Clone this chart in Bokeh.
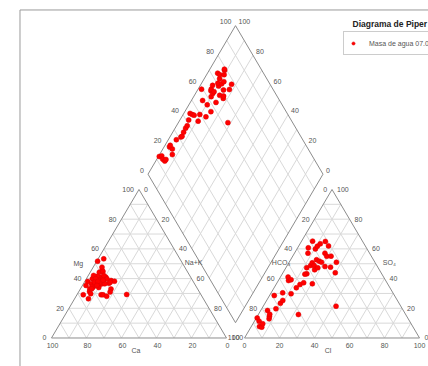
import math
from bokeh.plotting import figure
from bokeh.models import Legend, LegendItem, Label, Range1d
from bokeh.core.properties import value
from bokeh.embed import file_html
from bokeh.resources import INLINE

# ---------------- data (percent of meq) ----------------
ca = [47.8, 60.3, 56.7, 50.5, 61.6, 51.8, 43.5, 53.0, 54.9, 58.9, 54.5, 59.1, 48.3, 59.1, 62.6, 47.3, 67.3,
      54.8, 57.0, 51.2, 54.5, 57.1, 56.0, 48.5, 60.5, 62.6, 53.0, 42.4, 46.6, 65.7, 51.7, 62.7, 56.0, 48.2,
      48.7, 49.5, 44.9, 52.8, 47.7, 50.7, 48.4, 54.0, 56.6, 54.5, 51.0, 51.3, 51.0, 54.4, 49.1, 56.3]
mg = [51.7, 38.0, 39.9, 44.3, 33.1, 40.9, 53.3, 41.6, 42.1, 36.5, 39.2, 34.2, 45.5, 34.9, 31.3, 47.7, 29.1,
      39.9, 36.5, 38.0, 36.0, 29.1, 29.1, 41.0, 33.1, 35.4, 37.0, 29.3, 38.7, 26.4, 38.5, 29.8, 34.0, 44.8,
      36.9, 33.0, 38.2, 36.5, 37.5, 40.0, 39.9, 37.2, 37.6, 38.0, 31.0, 36.5, 39.0, 28.1, 42.1, 35.4]
na_k = [0.5, 1.7, 3.4, 5.2, 5.3, 7.3, 3.2, 5.4, 3.0, 4.6, 6.3, 6.7, 6.2, 6.0, 6.1, 5.0, 3.6,
        5.3, 6.5, 10.8, 9.5, 13.8, 14.9, 10.5, 6.4, 2.0, 10.0, 28.3, 14.7, 7.9, 9.8, 7.5, 10.0, 7.0,
        14.4, 17.5, 16.9, 10.7, 14.8, 9.3, 11.7, 8.8, 5.8, 7.5, 18.0, 12.2, 10.0, 17.5, 8.8, 8.3]
hco3 = [87.6, 86.0, 86.5, 86.0, 84.8, 79.5, 78.5, 77.6, 77.6, 72.2, 68.7, 67.8, 65.5, 63.0, 61.3, 58.5, 55.5,
        54.6, 53.8, 53.5, 50.3, 47.6, 43.0, 42.8, 44.0, 40.8, 37.8, 37.0, 37.0, 36.0, 35.8, 35.2, 34.5, 33.2,
        32.5, 31.5, 30.5, 30.0, 28.5, 29.5, 27.5, 27.0, 26.2, 25.5, 25.0, 25.5, 23.0, 22.0, 21.3, 21.0]
so4 = [7.7, 13.5, 7.3, 11.3, 9.6, 12.9, 14.5, 18.5, 16.0, 19.7, 28.6, 23.4, 25.3, 30.4, 15.8, 29.8, 38.7,
       41.0, 39.2, 33.8, 36.0, 37.2, 36.5, 43.2, 43.0, 47.3, 48.8, 21.4, 45.9, 50.6, 48.8, 57.1, 47.3, 60.7,
       52.7, 51.7, 51.0, 48.1, 65.2, 60.0, 61.8, 47.7, 43.9, 57.1, 63.4, 55.0, 55.1, 51.0, 65.0, 62.0]
cl = [4.7, 0.5, 6.2, 2.7, 5.6, 7.6, 7.0, 3.9, 6.4, 8.1, 2.7, 8.8, 9.2, 6.6, 22.9, 11.7, 5.8,
      4.4, 7.0, 12.7, 13.7, 15.2, 20.5, 14.0, 13.0, 11.9, 13.4, 41.6, 17.1, 13.4, 15.4, 7.7, 18.2, 6.1,
      14.8, 16.8, 18.5, 21.9, 6.3, 10.5, 10.7, 25.3, 29.9, 17.4, 11.6, 19.5, 21.9, 27.0, 13.7, 17.0]

tick_values = [0, 20, 40, 60, 80, 100]
tick_labels = ["0", "20", "40", "60", "80", "100"]
series_name = "Masa de agua 07.03"
title_text = "Diagrama de Piper"

# ---------------- geometry ----------------
H = math.sqrt(3) / 2
GAP = 10.3
X0 = 100 + GAP


def cat_xy(m, n):
    return n + 0.5 * m, H * m


def an_xy(s, c):
    return X0 + c + 0.5 * s, H * s


def dia_xy(camg, socl):
    bx, by = 100 + GAP / 2, H * GAP
    return bx - 0.5 * camg + 0.5 * socl, by + H * camg + H * socl


p = figure(width=428, height=366, x_range=Range1d(-29.14, 215.43), y_range=Range1d(-16.62, 196.79),
           output_backend="svg", toolbar_location=None, x_axis_type=None, y_axis_type=None,
           min_border=0)
p.min_border_left = p.min_border_right = p.min_border_top = p.min_border_bottom = 0
p.outline_line_color = None
p.grid.visible = False

# frame border (left and top)
p.line(x=[-18.0, -18.0, 220], y=[-20, 191.26, 191.26], line_color="#9a9a9a", line_width=1)

GRID = "#d9d9d9"
EDGE = "#8c8c8c"
steps = list(range(10, 100, 10))

gx, gy = [], []
for v in steps:
    for a, b in [((v, 0), (v, 100 - v)), ((0, v), (100 - v, v)), ((0, 100 - v), (100 - v, 0))]:
        x1, y1 = cat_xy(*a); x2, y2 = cat_xy(*b)
        gx.append([x1, x2]); gy.append([y1, y2])
        x1, y1 = an_xy(*a); x2, y2 = an_xy(*b)
        gx.append([x1, x2]); gy.append([y1, y2])
    for a, b in [((v, 0), (v, 100)), ((0, v), (100, v))]:
        x1, y1 = dia_xy(*a); x2, y2 = dia_xy(*b)
        gx.append([x1, x2]); gy.append([y1, y2])
p.multi_line(gx, gy, line_color=GRID, line_width=1)

ox, oy = [], []
for f in (cat_xy, an_xy):
    pts = [f(0, 0), f(0, 100), f(100, 0), f(0, 0)]
    ox.append([q[0] for q in pts]); oy.append([q[1] for q in pts])
pts = [dia_xy(0, 0), dia_xy(100, 0), dia_xy(100, 100), dia_xy(0, 100), dia_xy(0, 0)]
ox.append([q[0] for q in pts]); oy.append([q[1] for q in pts])
p.multi_line(ox, oy, line_color=EDGE, line_width=1)

FONT = value("Liberation Sans")
TS = value("7px")
TC = "#555555"


def labels(points, texts, align, xo, yo, baseline="middle"):
    p.text(x=[q[0] for q in points], y=[q[1] for q in points], text=texts,
           text_font=FONT, text_font_size=TS, text_color=TC, text_align=align,
           text_baseline=baseline, x_offset=xo, y_offset=yo)


# cation triangle
labels([cat_xy(v, 0) for v in tick_values], tick_labels, "right", -5, 0)                 # Mg
labels([cat_xy(0, 100 - v) for v in tick_values], tick_labels, "center", 1, 8)           # Ca
labels([cat_xy(100 - v, v) for v in tick_values], tick_labels, "left", 5, 0)             # Na+K
labels([cat_xy(50, 0)], ["Mg"], "right", -12, 0)
labels([cat_xy(50, 50)], ["Na+K"], "left", 2, -1)
labels([cat_xy(0, 50)], ["Ca"], "center", -3, 13)
# anion triangle
labels([an_xy(100 - v, 0) for v in tick_values], tick_labels, "right", -5, 0)            # HCO3
labels([an_xy(v, 100 - v) for v in tick_values], tick_labels, "left", 5, 0)              # SO4
labels([an_xy(0, v) for v in tick_values], tick_labels, "center", 0, 8)                  # Cl
labels([an_xy(50, 0)], ["HCO\u2083"], "right", 2, -1)
labels([an_xy(50, 50)], ["SO\u2084"], "left", 7, -1)
labels([an_xy(0, 50)], ["Cl"], "center", -4, 13)
# diamond
labels([dia_xy(100, v) for v in tick_values], tick_labels, "right", -4, -4)              # SO4+Cl
labels([dia_xy(v, 100) for v in tick_values], tick_labels, "left", 3, -4)                # Ca+Mg

# ---------------- points ----------------
PT = dict(size=5, fill_color="#ff0000", line_color="#dd0000", line_width=0.5)
cx = [cat_xy(m, n)[0] for m, n in zip(mg, na_k)]
cy = [cat_xy(m, n)[1] for m, n in zip(mg, na_k)]
ax = [an_xy(s, c)[0] for s, c in zip(so4, cl)]
ay = [an_xy(s, c)[1] for s, c in zip(so4, cl)]
dx = [dia_xy(a + b, s + c)[0] for a, b, s, c in zip(ca, mg, so4, cl)]
dy = [dia_xy(a + b, s + c)[1] for a, b, s, c in zip(ca, mg, so4, cl)]
p.scatter(cx, cy, **PT)
p.scatter(ax, ay, **PT)
r = p.scatter(dx, dy, **PT)

legend = Legend(items=[LegendItem(label=series_name, renderers=[r])], location=(343, 311),
                padding=5, spacing=0, margin=0, glyph_width=8, glyph_height=12, label_height=12,
                label_standoff=12, label_text_font_size="7px", label_text_color=TC,
                label_text_font="Liberation Sans", border_line_color="#9a9a9a",
                background_fill_color="white", background_fill_alpha=1)
p.add_layout(legend)

p.add_layout(Label(x=172.0, y=182.8, text=title_text, text_font="Liberation Sans",
                   text_font_size="8.5px", text_font_style="bold", text_color="#222222",
                   text_baseline="middle"))

open("out.html", "w").write(file_html(p, INLINE))
